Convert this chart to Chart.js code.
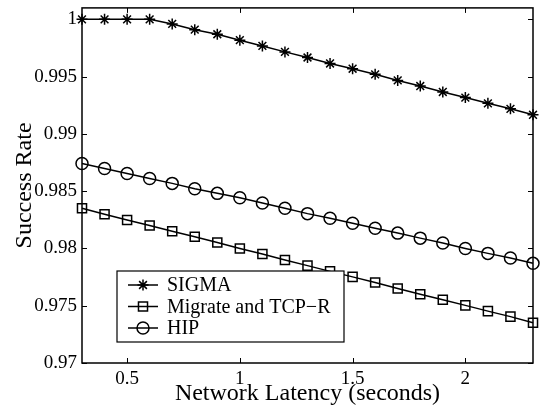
<!DOCTYPE html>
<html><head><meta charset="utf-8">
<script src="https://cdn.jsdelivr.net/npm/chart.js@4/dist/chart.umd.min.js"></script>
<style>html,body{margin:0;padding:0;background:#fff}</style>
</head><body>
<canvas id="c" width="551" height="411"></canvas>
<script>
const latency = [0.3,0.4,0.5,0.6,0.7,0.8,0.9,1.0,1.1,1.2,1.3,1.4,1.5,1.6,1.7,1.8,1.9,2.0,2.1,2.2,2.3];
const sigma = [1.0,1.0,1.0,1.0,0.9996,0.9991,0.9987,0.99818,0.99768,0.99716,0.99667,0.99615,0.99569,0.9952,0.99467,0.99418,0.99366,0.99317,0.99267,0.99219,0.99167];
const migrate = [0.98351,0.98299,0.98249,0.982,0.98151,0.98102,0.98052,0.98,0.97951,0.979,0.9785,0.978,0.97752,0.97702,0.9765,0.97601,0.97552,0.97503,0.97453,0.97405,0.97352];
const hip = [0.98741,0.98698,0.98655,0.98611,0.98568,0.98521,0.98481,0.98443,0.98397,0.98351,0.98304,0.98264,0.9822,0.98177,0.98134,0.9809,0.98047,0.98,0.97957,0.97917,0.9787];
const seriesNames = ['SIGMA','Migrate and TCP\u2212R','HIP'];
const xTicks = [0.5,1,1.5,2];
const yTicks = [0.97,0.975,0.98,0.985,0.99,0.995,1];
const xTitle = 'Network Latency (seconds)';
const yTitle = 'Success Rate';

const FONT = "'Liberation Serif', 'Times New Roman', serif";
Chart.defaults.font.family = FONT;
Chart.defaults.color = '#000';
const styles = [
  {pointStyle:'star', radius:5.5},
  {pointStyle:'rect', radius:6.4},
  {pointStyle:'circle', radius:6}
];
const seriesData = [sigma, migrate, hip];

const datasets = seriesData.map((arr,i)=>({
  label: seriesNames[i],
  data: latency.map((x,j)=>({x:x, y:arr[j]})),
  borderColor:'#000',
  backgroundColor:'rgba(0,0,0,0)',
  borderWidth:1.5,
  pointStyle: styles[i].pointStyle,
  pointRadius: styles[i].radius,
  pointBorderWidth:1.5,
  pointBorderColor:'#000',
  pointBackgroundColor:'rgba(0,0,0,0)',
  clip:false,
  tension:0
}));

const framePlugin = {
  id:'frame',
  afterDraw(chart){
    const ctx = chart.ctx, a = chart.chartArea;
    const xs = chart.scales.x, ys = chart.scales.y;
    ctx.save();
    ctx.strokeStyle = '#000';
    ctx.lineWidth = 1.5;
    ctx.strokeRect(a.left, a.top, a.right - a.left, a.bottom - a.top);
    ctx.lineWidth = 1;
    const tl = 5;
    ctx.beginPath();
    xTicks.forEach(v=>{
      const px = Math.round(xs.getPixelForValue(v)) + 0.5;
      ctx.moveTo(px, a.bottom); ctx.lineTo(px, a.bottom - tl);
      ctx.moveTo(px, a.top); ctx.lineTo(px, a.top + tl);
    });
    yTicks.forEach(v=>{
      const py = Math.round(ys.getPixelForValue(v)) + 0.5;
      ctx.moveTo(a.left, py); ctx.lineTo(a.left + tl, py);
      ctx.moveTo(a.right, py); ctx.lineTo(a.right - tl, py);
    });
    ctx.stroke();

    // legend
    const lx = 117, ly = 271, lw = 227, lh = 71;
    ctx.fillStyle = '#fff';
    ctx.fillRect(lx, ly, lw, lh);
    ctx.lineWidth = 1.2;
    ctx.strokeRect(lx, ly, lw, lh);
    const rows = [285, 306.5, 328];
    ctx.font = '20px ' + FONT;
    ctx.textBaseline = 'middle';
    ctx.textAlign = 'left';
    seriesNames.forEach((name,i)=>{
      const y = rows[i];
      ctx.strokeStyle = '#000';
      ctx.lineWidth = 1.5;
      ctx.beginPath(); ctx.moveTo(128, y); ctx.lineTo(158, y); ctx.stroke();
      ctx.fillStyle = 'rgba(0,0,0,0)';
      Chart.helpers.drawPoint(ctx, {pointStyle: styles[i].pointStyle, radius: styles[i].radius, borderWidth:1.5, rotation:0}, 143, y);
      ctx.fillStyle = '#000';
      ctx.fillText(name, 167, y + 1);
    });
    ctx.restore();
  }
};

new Chart(document.getElementById('c'), {
  type:'line',
  data:{datasets},
  plugins:[framePlugin],
  options:{
    responsive:false,
    devicePixelRatio:1,
    animation:false,
    layout:{padding:{top:6, right:18, left:0, bottom:0}},
    plugins:{legend:{display:false}, tooltip:{enabled:false}},
    scales:{
      x:{
        type:'linear', min:0.3, max:2.3,
        grid:{display:false, drawTicks:false},
        border:{display:false},
        afterBuildTicks(s){ s.ticks = xTicks.map(v=>({value:v})); },
        afterFit(s){ s.height = 48; s.paddingLeft = 0; s.paddingRight = 0; s.paddingTop = 0; s.paddingBottom = 0; },
        ticks:{color:'#000', padding:5, maxRotation:0, font:{family:FONT, size:19}, callback:v=>String(v)},
        title:{display:true, text:xTitle, color:'#000', font:{family:FONT, size:24}, padding:{top:0,bottom:3}}
      },
      y:{
        type:'linear', min:0.97, max:1.001,
        grid:{display:false, drawTicks:false},
        border:{display:false},
        afterBuildTicks(s){ s.ticks = yTicks.map(v=>({value:v})); },
        afterFit(s){ s.width = 82; s.paddingTop = 0; s.paddingBottom = 0; s.paddingLeft = 0; s.paddingRight = 0; },
        ticks:{color:'#000', padding:5, font:{family:FONT, size:19}, callback:v=>String(v)},
        title:{display:true, text:yTitle, color:'#000', font:{family:FONT, size:24}, padding:{top:10,bottom:0}}
      }
    }
  }
});
</script>
</body></html>
